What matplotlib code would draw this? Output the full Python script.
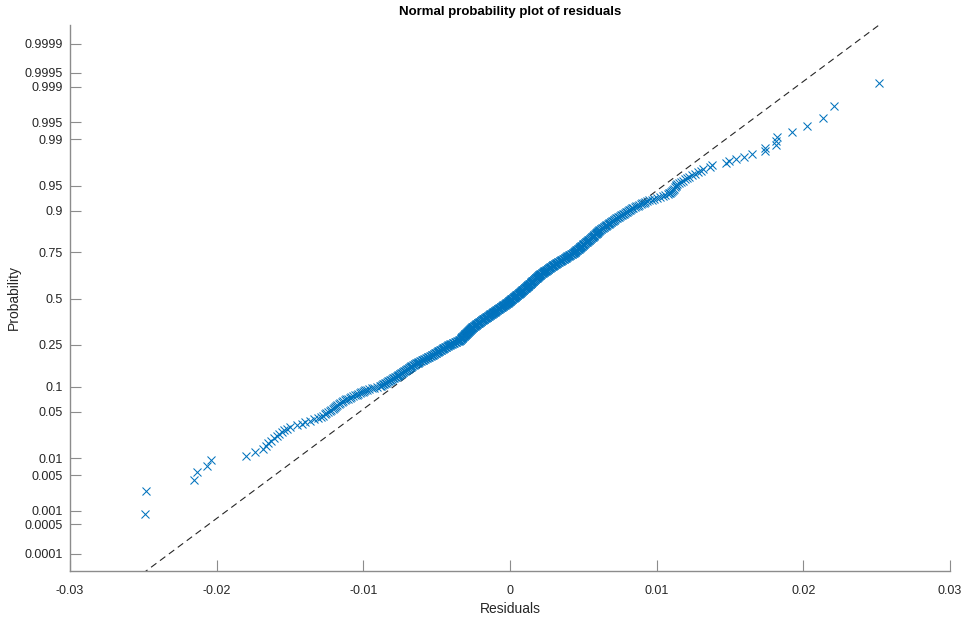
"""
Normal probability plot of residuals (MATLAB normplot look-alike).
Residual values read off the reference picture, in units of 1e-5.
"""
from statistics import NormalDist
import numpy as np
import matplotlib
matplotlib.use("Agg")
import matplotlib.pyplot as plt

plt.rcParams["font.family"] = ["Liberation Sans", "DejaVu Sans"]

# --- sorted residuals (x 1e-5), lower tail -> upper tail
resid_low = [-2488, -2481, -2152, -2132, -2063, -2040, -1800, -1740, -1682,
             -1665, -1650, -1628, -1610, -1592, -1575, -1556, -1540, -1522, -1503,
             -1454, -1420, -1395, -1363, -1335, -1309,
             -1290, -1275, -1262, -1252,
             -1240, -1228, -1221, -1210, -1200, -1192, -1185, -1177, -1168, -1159,
             -1148, -1137, -1125, -1116, -1105, -1094, -1082, -1070, -1058, -1045,
             -1035, -1026, -1015, -1005, -996, -987, -977,
             -960, -942, -925, -905, -886]

resid_lowmid = [-880, -872, -866, -859, -853, -846, -840, -833, -826, -820, -813, -806,
                -799, -792, -786, -779, -772,
                -767, -762, -757, -752, -747, -742, -737, -732, -727, -722, -717, -712,
                -707, -702, -697, -692, -687, -682, -677, -672, -667, -661, -656, -651,
                -646, -641, -636,
                -630, -625, -619, -613, -608, -602, -596, -591, -585, -579, -574, -568,
                -562, -557, -551, -546, -540, -534, -529, -523,
                -519, -515, -511, -506, -502, -498, -494, -490, -486, -481, -477, -473,
                -469, -465, -460, -456, -452, -448, -444, -439, -435, -431,
                -426, -421, -416, -411, -406, -401, -396, -391, -386, -381, -376, -371,
                -366, -361, -356, -351, -346, -342]

resid_center = [-339, -337, -335, -333, -330, -328, -326, -324, -321, -319, -317, -315,
                -313, -310, -308, -306, -304, -301, -299, -297, -295, -293, -290, -288,
                -286, -284, -281, -279, -277, -275, -272, -270, -268, -266, -264, -261,
                -259, -257, -255, -252, -250,
                -247, -244, -241, -238, -235, -233, -230, -227, -224, -221, -218, -215,
                -212, -209, -206, -203, -200, -198, -195, -192, -189, -186, -183, -180,
                -177, -174, -171, -168, -165, -163, -160, -157, -154, -151, -148, -145,
                -142, -139, -136,
                -133, -130, -127, -125, -122, -119, -116, -113, -110, -107, -104, -102,
                -99, -96, -93, -90, -87, -84, -82, -79, -76, -73, -70, -67, -64, -62,
                -59, -56, -53, -50, -47, -45, -42, -39, -36, -33, -30, -27, -25, -22,
                -20, -17, -15, -12, -10, -8, -5, -3, 0, 2, 5, 7, 10, 12, 14, 17, 19, 22,
                24, 26, 29, 31, 34, 36, 38, 41, 43, 46, 48, 50, 53, 55, 58, 60, 62, 65,
                67, 70, 72, 74, 77, 79, 82, 84, 86, 89, 91,
                93, 95, 98, 100, 102, 104, 106, 109, 111, 113, 115, 118, 120, 122, 124,
                126, 129, 131, 133, 135, 138, 140, 142, 144, 146, 149, 151, 153, 155,
                158, 160, 162, 164, 166, 169, 171, 173, 175, 178, 180, 182, 184, 186,
                189, 191, 193, 195, 198, 200, 202, 204]

resid_highmid = [207, 210, 213, 216, 219, 222, 226, 229, 232, 235, 238, 241, 244, 247,
                 250, 253, 256, 259, 262, 266, 269, 272, 275, 278, 281, 284, 287, 290,
                 293, 296, 299, 302, 306, 309, 312, 315, 318,
                 322, 326, 330, 334, 338, 342, 346, 349, 353, 357, 361, 365, 369, 373,
                 377, 381, 385, 388, 392, 396, 400, 404, 408, 412, 416, 420, 424, 427, 431,
                 434, 437, 440, 443, 446, 449, 452, 455, 458, 461, 464, 468, 471, 474,
                 477, 480, 483, 486, 489, 492, 495, 498, 501, 504, 507, 510, 513, 517,
                 520, 523,
                 526, 530, 533, 536, 540, 543, 546, 550, 553, 556, 560, 563, 566, 570,
                 573, 576, 580, 583, 586, 590, 593, 596, 600, 603, 606, 610, 613,
                 618, 623, 628, 633, 638, 643, 648, 652, 657, 662, 667, 672, 677, 682,
                 687, 692, 697, 702, 707, 712, 717, 722, 727,
                 734, 741, 748, 755, 762, 769, 776, 783, 790, 797, 805, 812, 819, 826,
                 833, 840]

resid_high = [850, 860, 870, 880, 891, 901, 911, 922, 932,
              949, 966, 983, 1000,
              1020, 1040, 1059, 1079,
              1085, 1091, 1098, 1104, 1110, 1117, 1123, 1129, 1134,
              1142, 1154, 1166, 1178, 1191, 1204,
              1223, 1242, 1261,
              1284, 1300,
              1318, 1363, 1375, 1472, 1495, 1539, 1595, 1648, 1736, 1740,
              1811, 1813, 1818, 1924, 2022, 2132, 2211, 2515]

prob_ticks = [0.0001, 0.0005, 0.001, 0.005, 0.01, 0.05, 0.1, 0.25, 0.5,
              0.75, 0.9, 0.95, 0.99, 0.995, 0.999, 0.9995, 0.9999]
prob_labels = ["0.0001", "0.0005", "0.001", "0.005", "0.01", "0.05", "0.1", "0.25", "0.5",
               "0.75", "0.9", "0.95", "0.99", "0.995", "0.999", "0.9995", "0.9999"]
x_ticks = [-0.03, -0.02, -0.01, 0, 0.01, 0.02, 0.03]
x_labels = ["-0.03", "-0.02", "-0.01", "0", "0.01", "0.02", "0.03"]

nd = NormalDist()
res = np.sort(np.array(resid_low + resid_lowmid + resid_center + resid_highmid + resid_high) * 1e-5)
n = len(res)
z = np.array([nd.inv_cdf((i - 0.5) / n) for i in range(1, n + 1)])

# reference line through the 1st and 3rd quartiles, like normplot
q1, q3 = np.percentile(res, [25, 75])
zq1, zq3 = nd.inv_cdf(0.25), nd.inv_cdf(0.75)
slope = (zq3 - zq1) / (q3 - q1)
xl = np.array([-0.03, 0.03])
zl = zq1 + slope * (xl - q1)

fig = plt.figure(figsize=(9.66, 6.26), dpi=100)
ax = fig.add_axes([70 / 966, 1 - 571 / 626, 880 / 966, 546 / 626])

ax.plot(xl, zl, color="#262626", lw=0.8, ls=(0, (6, 4)), zorder=1)
ax.plot(res, z, ls="none", marker="x", ms=5.5, mew=0.75, color="#0072BD", zorder=2)

ax.set_xlim(-0.03, 0.03)
ax.set_ylim(-3.97, 3.99)
ax.set_xticks(x_ticks)
ax.set_xticklabels(x_labels)
ax.set_yticks([nd.inv_cdf(p) for p in prob_ticks])
ax.set_yticklabels(prob_labels)

for side in ("top", "right"):
    ax.spines[side].set_visible(False)
for side in ("left", "bottom"):
    ax.spines[side].set_color("#8c8c8c")
    ax.spines[side].set_linewidth(1.0)
ax.tick_params(direction="in", length=8, width=0.8, color="#8c8c8c",
               labelsize=9, labelcolor="#262626")
ax.tick_params(axis="x", pad=10)
ax.tick_params(axis="y", pad=5)

ax.set_xlabel("Residuals", fontsize=10, color="#262626", labelpad=4)
ax.set_ylabel("Probability", fontsize=10, color="#262626", labelpad=3)
ax.set_title("Normal probability plot of residuals", fontsize=9.5, fontweight="bold",
             color="black", pad=7)

fig.savefig("out.png", dpi=100)
